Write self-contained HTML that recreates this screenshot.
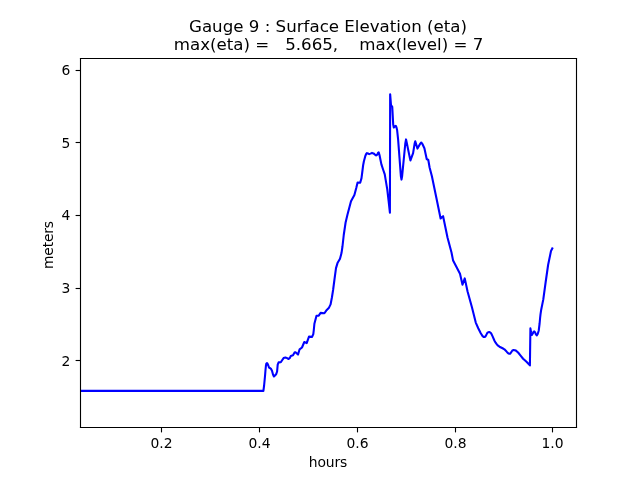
<!DOCTYPE html>
<html lang="en">
<head>
<meta charset="utf-8">
<title>Gauge 9 : Surface Elevation (eta)</title>
<style>
html,body{margin:0;padding:0;background:#fff;}
body{width:640px;height:480px;overflow:hidden;}
svg{display:block;}
text{font-family:"DejaVu Sans","Liberation Sans",sans-serif;fill:#000;white-space:pre;}
.t{font-size:16.667px;}
.l{font-size:13.889px;}
</style>
</head>
<body>
<svg width="640" height="480" viewBox="0 0 640 480">
<rect x="0" y="0" width="640" height="480" fill="#ffffff"/>
<g stroke="#000" stroke-width="1.11" fill="none">
<line x1="161.5" y1="427.5" x2="161.5" y2="432.4"/>
<line x1="259.5" y1="427.5" x2="259.5" y2="432.4"/>
<line x1="357.5" y1="427.5" x2="357.5" y2="432.4"/>
<line x1="455.5" y1="427.5" x2="455.5" y2="432.4"/>
<line x1="552.5" y1="427.5" x2="552.5" y2="432.4"/>
<line x1="75.6" y1="70.5" x2="80.5" y2="70.5"/>
<line x1="75.6" y1="142.5" x2="80.5" y2="142.5"/>
<line x1="75.6" y1="215.5" x2="80.5" y2="215.5"/>
<line x1="75.6" y1="288.5" x2="80.5" y2="288.5"/>
<line x1="75.6" y1="360.5" x2="80.5" y2="360.5"/>
</g>
<svg x="80" y="58" width="497" height="370" viewBox="80 58 497 370" overflow="hidden"><path d="M80.50 390.90 L263.40 390.90 L264.10 385.50 L265.00 376.20 L265.50 370.00 L265.90 366.00 L266.30 363.80 L266.90 363.10 L267.60 363.80 L268.30 365.50 L269.00 367.50 L270.80 368.60 L272.00 370.80 L273.00 374.50 L273.95 376.50 L275.00 375.50 L276.10 374.30 L277.10 371.50 L277.70 364.60 L278.60 362.40 L280.80 362.30 L282.10 360.30 L283.60 358.10 L285.50 357.50 L287.10 358.10 L288.60 359.00 L289.90 357.90 L290.80 355.90 L293.00 355.20 L294.70 352.20 L295.50 352.30 L298.00 354.60 L299.60 349.30 L302.00 347.50 L304.30 342.00 L306.70 343.10 L309.00 336.60 L312.10 336.90 L313.30 334.20 L313.80 330.00 L314.40 323.75 L316.50 315.80 L318.75 315.60 L320.60 312.90 L324.40 313.25 L326.25 310.60 L328.75 308.10 L330.60 304.40 L331.90 297.50 L333.10 290.00 L334.40 280.00 L336.00 268.10 L337.50 263.10 L340.00 258.75 L341.50 253.10 L342.50 246.25 L343.75 235.00 L345.60 222.50 L347.50 214.40 L351.00 201.25 L354.40 195.00 L356.25 188.10 L357.60 182.50 L360.20 182.80 L361.50 178.10 L362.10 173.50 L363.10 165.50 L363.90 161.20 L365.40 155.80 L366.30 153.80 L367.00 153.10 L368.00 153.50 L369.20 154.10 L370.50 153.60 L372.00 152.90 L373.50 153.40 L375.00 154.60 L376.10 155.40 L377.30 154.60 L378.00 152.80 L378.70 152.30 L379.50 155.00 L380.40 159.50 L381.40 164.40 L383.25 170.00 L384.75 174.40 L387.25 189.40 L388.60 201.00 L389.90 212.70 L390.15 94.20 L391.00 105.00 L392.25 106.90 L393.20 124.50 L393.80 127.50 L394.70 126.50 L395.80 125.80 L396.50 127.50 L397.10 130.00 L398.10 139.40 L400.90 176.30 L401.50 179.60 L402.10 176.30 L405.30 143.50 L406.05 139.40 L406.80 143.00 L410.00 158.60 L410.45 160.50 L410.90 159.20 L413.10 153.10 L414.70 143.20 L415.25 141.30 L415.80 143.00 L417.50 148.60 L420.30 143.60 L421.25 142.50 L422.30 143.80 L424.40 148.20 L426.70 159.00 L428.30 160.00 L429.60 167.50 L431.90 176.25 L436.30 197.50 L440.60 218.50 L443.10 216.20 L447.50 237.50 L451.50 252.50 L453.10 260.60 L460.00 273.75 L462.50 284.70 L464.75 278.40 L467.50 291.25 L472.00 307.50 L475.75 322.60 L478.25 328.25 L480.75 333.25 L482.60 336.10 L483.60 336.90 L484.50 337.00 L485.40 336.50 L486.10 335.40 L487.30 332.90 L488.20 332.20 L489.20 332.00 L490.20 332.40 L491.10 333.25 L492.60 336.40 L494.50 340.75 L495.60 342.70 L496.70 344.20 L498.00 345.60 L499.50 346.70 L502.60 348.25 L504.40 349.30 L505.60 350.50 L506.90 351.90 L508.40 353.40 L509.20 353.80 L510.00 353.80 L510.70 353.00 L511.25 352.20 L512.20 350.70 L513.00 350.20 L513.75 350.00 L514.80 350.20 L515.90 350.60 L518.10 352.50 L520.60 355.60 L523.10 358.75 L526.25 361.60 L528.40 363.75 L529.90 365.40 L530.40 328.40 L531.10 332.50 L531.90 334.90 L532.80 333.50 L533.50 331.90 L534.25 331.40 L535.00 332.20 L535.80 334.20 L536.75 335.50 L537.70 334.00 L538.75 330.50 L539.60 323.50 L540.10 318.00 L540.50 314.40 L541.20 309.70 L543.30 299.40 L545.60 282.50 L548.10 265.00 L551.00 251.00 L552.30 248.50" fill="none" stroke="#0000ff" stroke-width="2.08" stroke-linejoin="round" stroke-linecap="square"/></svg>
<g stroke="#000" stroke-width="1.11" fill="none" stroke-linecap="square">
<line x1="80.5" y1="58.5" x2="80.5" y2="427.5"/>
<line x1="576.5" y1="58.5" x2="576.5" y2="427.5"/>
<line x1="80.5" y1="427.5" x2="576.5" y2="427.5"/>
<line x1="80.5" y1="58.5" x2="576.5" y2="58.5"/>
</g>
<g class="l" text-anchor="middle">
<text x="161.5" y="448">0.2</text>
<text x="259.5" y="448">0.4</text>
<text x="357.5" y="448">0.6</text>
<text x="455.5" y="448">0.8</text>
<text x="552.5" y="448">1.0</text>
<text x="328" y="466.6" letter-spacing="-0.1">hours</text>
</g>
<g class="l" text-anchor="end">
<text x="70.3" y="75">6</text>
<text x="70.3" y="148">5</text>
<text x="70.3" y="220">4</text>
<text x="70.3" y="293">3</text>
<text x="70.3" y="366">2</text>
</g>
<text class="l" text-anchor="middle" transform="translate(52.5,245.1) rotate(-90)" letter-spacing="-0.2">meters</text>
<text class="t" id="t1" text-anchor="middle" x="328.0" y="32">Gauge 9 : Surface Elevation (eta)</text>
<text class="t" id="t2" text-anchor="middle" x="328.6" y="50" xml:space="preserve">max(eta) =   5.665,    max(level) = 7</text>
</svg>
</body>
</html>
